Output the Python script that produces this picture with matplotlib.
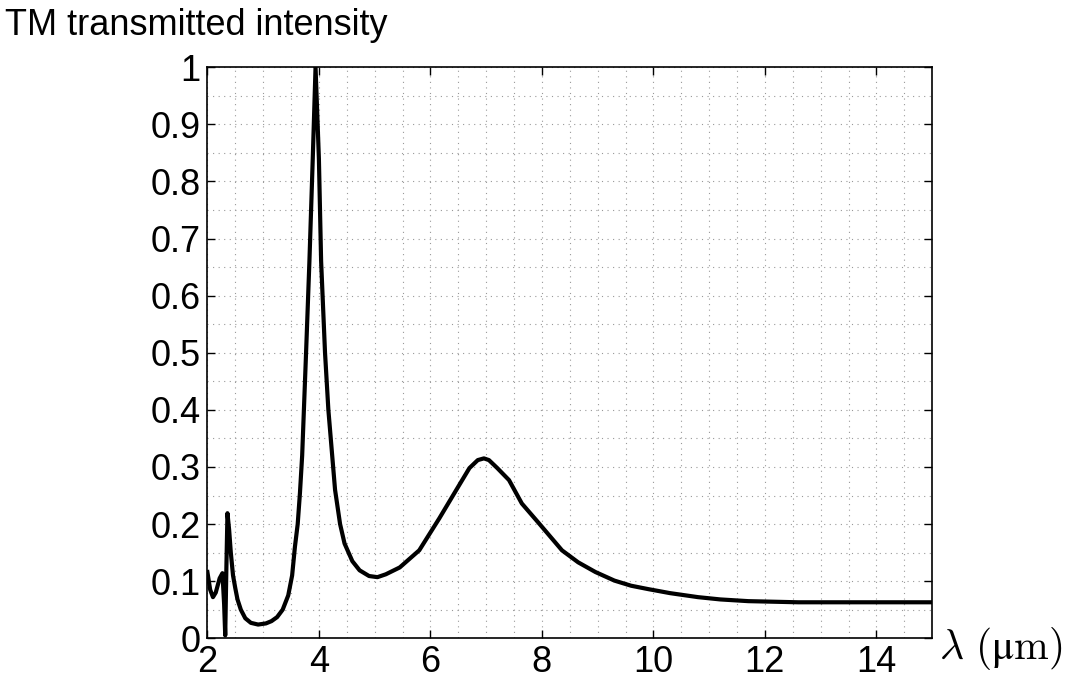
import numpy as np
import matplotlib.pyplot as plt
from matplotlib.ticker import MultipleLocator

# wavelength (um) and TM transmitted intensity
wavelength = [2.0, 2.05, 2.1, 2.15, 2.22, 2.27, 2.3, 2.32, 2.34, 2.36, 2.39,
              2.42, 2.46, 2.5, 2.54, 2.6, 2.68, 2.78, 2.91, 3.05, 3.15, 3.25,
              3.35, 3.45, 3.52, 3.57, 3.62, 3.66, 3.7, 3.77, 3.83, 3.89, 3.94,
              4.0, 4.04, 4.11, 4.17, 4.23, 4.29, 4.38, 4.46, 4.6, 4.73, 4.9,
              5.05, 5.2, 5.45, 5.8, 6.16, 6.46, 6.7, 6.85, 6.96, 7.05, 7.2,
              7.41, 7.64, 7.95, 8.36, 8.65, 8.96, 9.3, 9.6, 9.91, 10.3, 10.8,
              11.2, 11.7, 12.6, 15.0]
intensity = [0.116, 0.085, 0.072, 0.08, 0.105, 0.114, 0.06, 0.005, 0.12, 0.219,
             0.19, 0.15, 0.11, 0.088, 0.068, 0.05, 0.035, 0.027, 0.024, 0.026,
             0.03, 0.037, 0.05, 0.075, 0.11, 0.16, 0.2, 0.254, 0.32, 0.5, 0.66,
             0.84, 1.0, 0.84, 0.66, 0.5, 0.40, 0.33, 0.26, 0.2, 0.166, 0.135,
             0.119, 0.109, 0.107, 0.112, 0.124, 0.154, 0.21, 0.259, 0.298,
             0.312, 0.315, 0.312, 0.298, 0.277, 0.236, 0.201, 0.154, 0.133,
             0.116, 0.101, 0.092, 0.086, 0.079, 0.072, 0.068, 0.065, 0.063,
             0.063]

x_ticks = [2, 4, 6, 8, 10, 12, 14]
y_ticks = np.arange(0, 1.01, 0.1)
y_tick_labels = ['0', '0.1', '0.2', '0.3', '0.4', '0.5', '0.6', '0.7', '0.8', '0.9', '1']

plt.rcParams['font.family'] = ['Liberation Sans', 'DejaVu Sans']
plt.rcParams['mathtext.fontset'] = 'cm'

fig = plt.figure(figsize=(10.69, 6.79), dpi=100)
ax = fig.add_axes([0.194, 0.060, 0.678, 0.841])

ax.plot(wavelength, intensity, color='black', lw=3.0, solid_joinstyle='round')

ax.set_xlim(2, 15)
ax.set_ylim(0, 1)
ax.set_xticks(x_ticks)
ax.set_yticks(y_ticks)
ax.set_yticklabels(y_tick_labels)
ax.xaxis.set_minor_locator(MultipleLocator(0.5))
ax.yaxis.set_minor_locator(MultipleLocator(0.05))

ax.grid(which='both', color='#999999', ls=(0, (1, 4)), lw=0.8)
ax.tick_params(which='major', direction='in', length=6, width=1,
               top=True, right=True, labelsize=26, pad=5)
ax.tick_params(which='minor', length=0)
for s in ax.spines.values():
    s.set_linewidth(1.2)

fig.text(0.005, 0.962, 'TM transmitted intensity', fontsize=26, va='center', ha='left')
fig.text(0.878, 0.045, r'$\lambda\ (\mathrm{μm})$', fontsize=30, va='center', ha='left')

fig.savefig('out.png', dpi=100)
